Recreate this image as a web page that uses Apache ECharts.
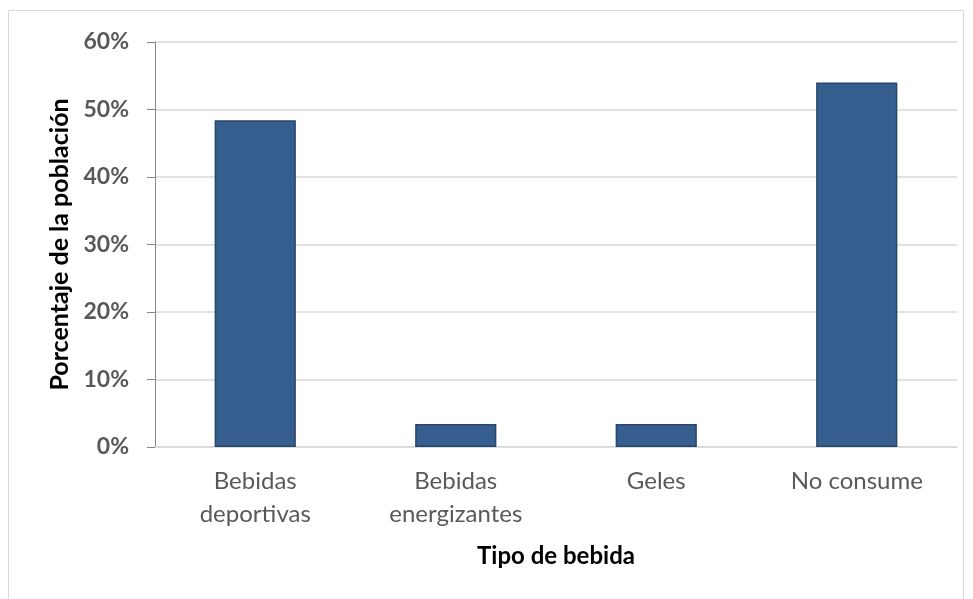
<!DOCTYPE html>
<html>
<head>
<meta charset="utf-8">
<script src="https://cdn.jsdelivr.net/npm/echarts@6/dist/echarts.min.js"></script>
<style>
  html, body { margin: 0; padding: 0; background: #fff; }
  #chart { width: 973px; height: 599px; }
</style>
</head>
<body>
<div id="chart"></div>
<script>
// datos
const categorias = ['Bebidas\ndeportivas', 'Bebidas\nenergizantes', 'Geles', 'No consume'];
const porcentajes = [48.4, 3.4, 3.4, 54.0];

const FONT = 'Lato, "Open Sans", sans-serif';

const chart = echarts.init(document.getElementById('chart'));

chart.setOption({
  backgroundColor: '#fff',
  animation: false,
  grid: { left: 155, right: 16, top: 42, bottom: 152 },
  graphic: [
    {
      type: 'rect',
      shape: { x: 8.5, y: 10.5, width: 955, height: 600 },
      style: { fill: 'none', stroke: '#d9d9d9', lineWidth: 1 },
      silent: true,
    },
  ],
  xAxis: {
    type: 'category',
    data: categorias,
    name: 'Tipo de bebida',
    nameLocation: 'center',
    nameGap: 97,
    nameTextStyle: { color: '#000', fontSize: 24, fontWeight: 'bold', fontFamily: FONT },
    axisLine: { lineStyle: { color: '#d9d9d9', width: 1.5 } },
    axisTick: { show: false },
    axisLabel: {
      color: '#595959', fontSize: 24, fontFamily: FONT,
      lineHeight: 33, margin: 18, interval: 0,
    },
  },
  yAxis: {
    type: 'value',
    min: 0, max: 60, interval: 10,
    name: 'Porcentaje de la población',
    nameLocation: 'center',
    nameGap: 80,
    nameRotate: 90,
    nameTextStyle: { color: '#000', fontSize: 25, fontWeight: 'bold', fontFamily: FONT },
    axisLine: { show: true, lineStyle: { color: '#868686', width: 1 } },
    axisTick: { show: true, length: 8, lineStyle: { color: '#868686' } },
    axisLabel: {
      color: '#595959', fontSize: 23, fontWeight: 'bold', fontFamily: FONT,
      margin: 26, formatter: '{value}%',
    },
    splitLine: { lineStyle: { color: '#d9d9d9', width: 1.5 } },
  },
  series: [{
    type: 'bar',
    data: porcentajes,
    barWidth: '40.5%',
    itemStyle: { color: '#365f8f', borderColor: '#27466b', borderWidth: 1.5 },
  }],
});
</script>
</body>
</html>
